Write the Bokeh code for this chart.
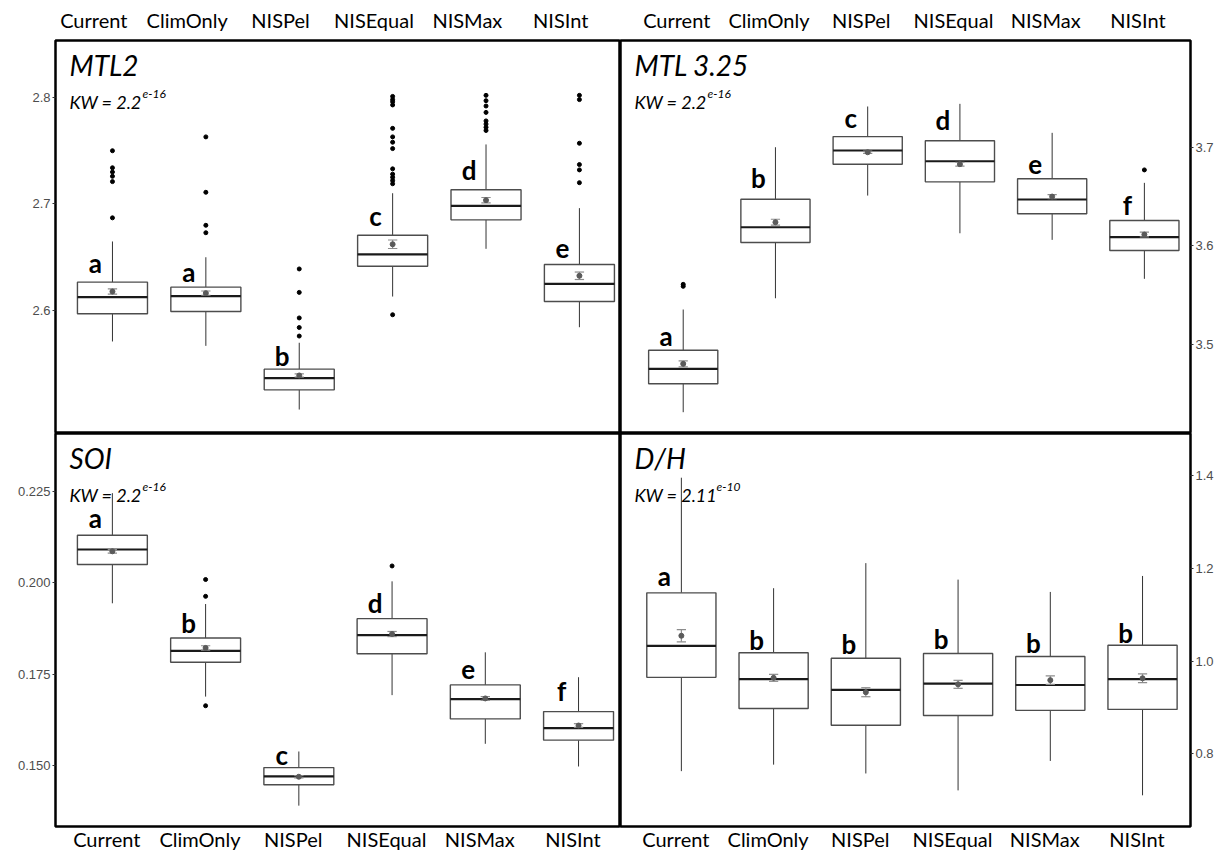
import numpy as np
from bokeh.plotting import figure
from bokeh.models import Range1d, LinearAxis, FixedTicker, PrintfTickFormatter, Label
from bokeh.layouts import column, row
from bokeh.core.properties import value
from bokeh.embed import file_html
from bokeh.resources import INLINE

categories = ["Current", "ClimOnly", "NISPel", "NISEqual", "NISMax", "NISInt"]

# ---------------- MTL2 ----------------
mtl2_q1 = [2.597, 2.599, 2.5255, 2.6416, 2.6851, 2.6085]
mtl2_med = [2.6125, 2.6135, 2.5364, 2.6526, 2.6983, 2.625]
mtl2_q3 = [2.6266, 2.6219, 2.5449, 2.6707, 2.7133, 2.6432]
mtl2_lo = [2.5709, 2.5668, 2.507, 2.6131, 2.6579, 2.5843]
mtl2_hi = [2.6648, 2.650, 2.5697, 2.7101, 2.7559, 2.6961]
mtl2_mean = [2.6178, 2.6163, 2.539, 2.6622, 2.7036, 2.6326]
mtl2_se = [0.0025, 0.002, 0.0015, 0.004, 0.0025, 0.0035]
mtl2_out = [
    [2.750, 2.734, 2.730, 2.726, 2.721, 2.687],
    [2.763, 2.711, 2.680, 2.673],
    [2.639, 2.617, 2.593, 2.584, 2.576],
    [2.801, 2.798, 2.796, 2.793, 2.771, 2.763, 2.758, 2.752, 2.733, 2.728, 2.725, 2.722, 2.719, 2.596],
    [2.802, 2.797, 2.792, 2.786, 2.778, 2.775, 2.772, 2.769],
    [2.802, 2.798, 2.757, 2.737, 2.732, 2.720],
]
mtl2_letters = ["a", "a", "b", "c", "d", "e"]
mtl2_letter_y = [2.645, 2.636, 2.557, 2.689, 2.732, 2.658]
mtl2_ticks = [2.6, 2.7, 2.8]

# ---------------- MTL 3.25 ----------------
mtl325_q1 = [3.4602, 3.6034, 3.6828, 3.6649, 3.6325, 3.5953]
mtl325_med = [3.4754, 3.6189, 3.6967, 3.6858, 3.647, 3.6088]
mtl325_q3 = [3.4942, 3.6473, 3.7108, 3.7065, 3.668, 3.6257]
mtl325_lo = [3.4314, 3.5469, 3.651, 3.6128, 3.6061, 3.5666]
mtl325_hi = [3.5355, 3.700, 3.7413, 3.744, 3.7146, 3.6639]
mtl325_mean = [3.4804, 3.624, 3.6949, 3.6828, 3.650, 3.6115]
mtl325_se = [0.003, 0.003, 0.0012, 0.002, 0.002, 0.0024]
mtl325_out = [[3.561, 3.559], [], [], [], [], [3.677]]
mtl325_letters = ["a", "b", "c", "d", "e", "f"]
mtl325_letter_y = [3.5084, 3.6686, 3.7298, 3.728, 3.6828, 3.6416]
mtl325_ticks = [3.5, 3.6, 3.7]

# ---------------- SOI ----------------
soi_q1 = [0.2050, 0.1783, 0.1448, 0.1806, 0.1628, 0.1570]
soi_med = [0.2091, 0.1814, 0.1471, 0.1857, 0.1682, 0.1603]
soi_q3 = [0.2130, 0.1849, 0.1495, 0.1902, 0.1721, 0.1648]
soi_lo = [0.1944, 0.1689, 0.1391, 0.1693, 0.1560, 0.1498]
soi_hi = [0.2245, 0.1942, 0.1539, 0.2004, 0.1810, 0.1742]
soi_mean = [0.2086, 0.1822, 0.1470, 0.1860, 0.1684, 0.1610]
soi_se = [0.0005, 0.0006, 0.0003, 0.0007, 0.0005, 0.0005]
soi_out = [[], [0.2009, 0.1963, 0.1664], [], [0.2046], [], []]
soi_letters = ["a", "b", "c", "d", "e", "f"]
soi_letter_y = [0.2176, 0.189, 0.153, 0.1944, 0.1764, 0.1705]
soi_ticks = [0.150, 0.175, 0.200, 0.225]

# ---------------- D/H ----------------
dh_q1 = [0.965, 0.898, 0.862, 0.883, 0.894, 0.896]
dh_med = [1.033, 0.961, 0.938, 0.9515, 0.9485, 0.961]
dh_q3 = [1.147, 1.018, 1.006, 1.0165, 1.010, 1.034]
dh_lo = [0.763, 0.777, 0.758, 0.7216, 0.785, 0.711]
dh_hi = [1.395, 1.157, 1.211, 1.1755, 1.149, 1.1834]
dh_mean = [1.0546, 0.964, 0.933, 0.950, 0.959, 0.963]
dh_se = [0.013, 0.0075, 0.0097, 0.0086, 0.009, 0.0093]
dh_out = [[], [], [], [], [], []]
dh_letters = ["a", "b", "b", "b", "b", "b"]
dh_letter_y = [1.1826, 1.0445, 1.037, 1.0466, 1.0387, 1.061]
dh_ticks = [0.8, 1.0, 1.2, 1.4]

FONT = "Lato"
BOX_W = 0.75
CAP_W = 0.05


def panel(side, vpos, title, kw_main, kw_sup, q1, med, q3, lo, hi, mean, se,
          outliers, letters, letter_y, yticks, yfmt, yr, xr, shift):
    if side == "left":
        w, mbl, mbr = 620, 55, 0
    else:
        w, mbl, mbr = 608, 0, 38
    if vpos == "top":
        h, mbt, mbb = 433, 40, 0
    else:
        h, mbt, mbb = 422, 0, 29
    p = figure(width=w, height=h, x_range=Range1d(*xr), y_range=Range1d(*yr),
               output_backend="svg", toolbar_location=None,
               x_axis_location=None, y_axis_location=None,
               min_border_left=mbl, min_border_right=mbr,
               min_border_top=mbt, min_border_bottom=mbb)
    p.grid.visible = False
    p.outline_line_color = "black"
    p.outline_line_width = 2.5
    p.outline_line_alpha = 1.0
    p.background_fill_color = "white"
    p.border_fill_color = "white"

    xs = np.arange(1, len(categories) + 1, dtype=float)
    q1 = np.array(q1); med = np.array(med); q3 = np.array(q3)
    lo = np.array(lo); hi = np.array(hi)
    mean = np.array(mean); se = np.array(se)

    # whiskers
    p.segment(x0=xs, y0=q3, x1=xs, y1=hi, line_color="#333333", line_width=1)
    p.segment(x0=xs, y0=q1, x1=xs, y1=lo, line_color="#333333", line_width=1)
    # boxes
    p.vbar(x=xs, bottom=q1, top=q3, width=BOX_W, fill_color="white",
           line_color="#4d4d4d", line_width=1.4)
    # medians
    p.segment(x0=xs - BOX_W / 2, y0=med, x1=xs + BOX_W / 2, y1=med,
              line_color="#1a1a1a", line_width=2.2)
    # mean +- se
    p.segment(x0=xs, y0=mean - se, x1=xs, y1=mean + se, line_color="#8c8c8c", line_width=1.2)
    p.segment(x0=xs - CAP_W, y0=mean + se, x1=xs + CAP_W, y1=mean + se,
              line_color="#8c8c8c", line_width=1.2)
    p.segment(x0=xs - CAP_W, y0=mean - se, x1=xs + CAP_W, y1=mean - se,
              line_color="#8c8c8c", line_width=1.2)
    p.scatter(x=xs, y=mean, marker="circle", size=5, fill_color="#5a5a5a",
              line_color="#5a5a5a")
    # outliers
    ox = [x for x, vals in zip(xs, outliers) for _ in vals]
    oy = [v for vals in outliers for v in vals]
    p.scatter(x=ox, y=oy, marker="circle", size=4, fill_color="black", line_color="black")
    # group letters
    p.text(x=xs, y=letter_y, text=letters, x_offset=-17,
           text_font=value(FONT), text_font_style="bold", text_font_size="26px",
           text_align="center", text_baseline="middle", text_color="black")

    # title and KW
    p.add_layout(Label(x=xr[0], y=yr[1], x_offset=14, y_offset=-24, text=title,
                       text_font=FONT, text_font_style="italic", text_font_size="28px",
                       text_baseline="alphabetic", text_color="black"))
    p.add_layout(Label(x=xr[0], y=yr[1], x_offset=14, y_offset=-61, text=kw_main,
                       text_font=FONT, text_font_style="italic", text_font_size="18px",
                       text_baseline="alphabetic", text_color="black"))
    sup_x = 14 + (73 if len(kw_main) <= 8 else 82)
    p.add_layout(Label(x=xr[0], y=yr[1], x_offset=sup_x, y_offset=-53, text=kw_sup,
                       text_font=FONT, text_font_style="italic", text_font_size="12px",
                       text_baseline="alphabetic", text_color="black"))

    # category axis
    p.extra_x_ranges = {"lab": Range1d(xr[0] + shift, xr[1] + shift)}
    xa = LinearAxis(x_range_name="lab", ticker=FixedTicker(ticks=list(xs)),
                    major_label_overrides={int(i): c for i, c in zip(xs, categories)})
    xa.axis_line_color = None
    xa.major_tick_line_color = None
    xa.major_tick_out = 0
    xa.major_tick_in = 0
    xa.minor_tick_line_color = None
    xa.minor_tick_out = 0
    xa.major_label_text_font = FONT
    xa.major_label_text_font_size = "20px"
    xa.major_label_text_color = "black"
    xa.major_label_standoff = 9 if vpos == "top" else 0
    p.add_layout(xa, "above" if vpos == "top" else "below")

    ya = LinearAxis(ticker=FixedTicker(ticks=yticks), formatter=PrintfTickFormatter(format=yfmt))
    ya.axis_line_color = None
    ya.major_tick_in = 0
    ya.major_tick_out = 3
    ya.major_tick_line_color = "#333333"
    ya.minor_tick_line_color = None
    ya.minor_tick_out = 0
    ya.major_label_text_font = "Liberation Sans"
    ya.major_label_text_font_size = "13px"
    ya.major_label_text_color = "#4d4d4d"
    ya.major_label_standoff = 2
    p.add_layout(ya, side)
    return p


tl = panel("left", "top", "MTL2", "KW = 2.2", "e-16",
           mtl2_q1, mtl2_med, mtl2_q3, mtl2_lo, mtl2_hi, mtl2_mean, mtl2_se,
           mtl2_out, mtl2_letters, mtl2_letter_y, mtl2_ticks, "%.1f",
           (2.4845, 2.8535), (0.39, 6.44), 0.2)
tr = panel("right", "top", "MTL 3.25", "KW = 2.2", "e-16",
           mtl325_q1, mtl325_med, mtl325_q3, mtl325_lo, mtl325_hi, mtl325_mean, mtl325_se,
           mtl325_out, mtl325_letters, mtl325_letter_y, mtl325_ticks, "%.1f",
           (3.4098, 3.8082), (0.32, 6.5), 0.07)
bl = panel("left", "bottom", "SOI", "KW = 2.2", "e-16",
           soi_q1, soi_med, soi_q3, soi_lo, soi_hi, soi_mean, soi_se,
           soi_out, soi_letters, soi_letter_y, soi_ticks, "%.3f",
           (0.1334, 0.2408), (0.39, 6.45), 0.06)
br = panel("right", "bottom", "D/H", "KW = 2.11", "e-10",
           dh_q1, dh_med, dh_q3, dh_lo, dh_hi, dh_mean, dh_se,
           dh_out, dh_letters, dh_letter_y, dh_ticks, "%.1f",
           (0.6438, 1.4902), (0.34, 6.52), 0.06)

layout = column(row(tl, tr, spacing=0), row(bl, br, spacing=0), spacing=0)

open("out.html", "w").write(file_html(layout, INLINE, title="Boxplots"))
